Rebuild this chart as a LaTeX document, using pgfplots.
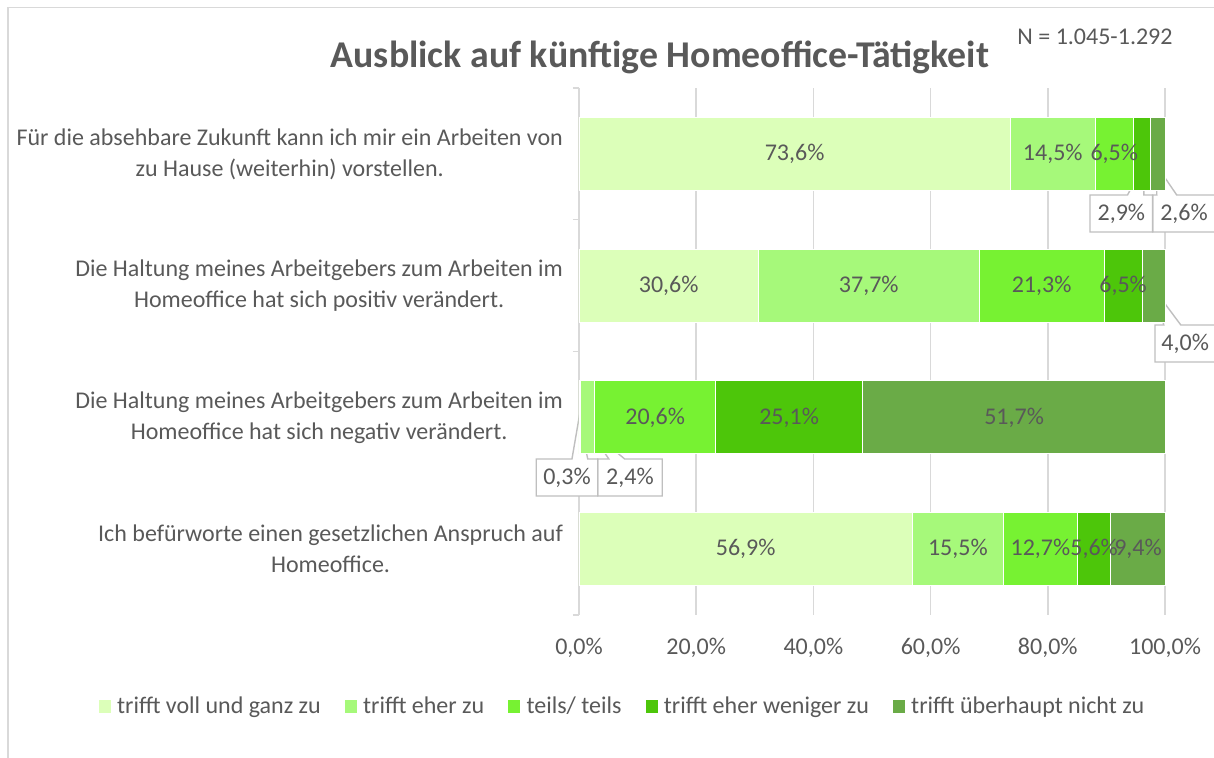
\documentclass[border=0pt]{standalone}
\usepackage{pgfplots}
\pgfplotsset{compat=1.18}
\usepackage{fontspec}
\setmainfont{Carlito}
\definecolor{cA}{HTML}{DCFFB9}
\definecolor{cB}{HTML}{A6F97A}
\definecolor{cC}{HTML}{77F232}
\definecolor{cD}{HTML}{4DC60A}
\definecolor{cE}{HTML}{6AAB47}
\definecolor{txt}{HTML}{595959}
\definecolor{gridc}{HTML}{D9D9D9}
\definecolor{callc}{HTML}{BFBFBF}
\newcommand{\callout}[8]{%
 \draw[callc, fill=white, line width=0.7pt, line join=miter] (axis cs:#7,#8) -- (axis cs:#5,#4) -- (axis cs:#1,#4) -- (axis cs:#1,#3) -- (axis cs:#2,#3) -- (axis cs:#2,#4) -- (axis cs:#6,#4) -- cycle;%
}
\begin{document}
\begin{tikzpicture}[x=1pt,y=1pt]
\path[use as bounding box] (-289.5,-71.5) rectangle (317.5,307.5);
\draw[gridc, line width=0.7pt] (-285.5,-71.5) -- (-285.5,303.75) -- (317.5,303.75);
\begin{axis}[
  at={(0,0)}, anchor=south west,
  scale only axis, width=293pt, height=263.5pt,
  xbar stacked, bar width=36.5pt,
  xmin=0, xmax=100, ymin=-0.5, ymax=3.5,
  clip=false,
  axis line style={draw=none},
  xtick={0,20,40,60,80,100},
  xticklabels={{0,0\%},{20,0\%},{40,0\%},{60,0\%},{80,0\%},{100,0\%}},
  xticklabel style={font=\fontsize{12}{14}\selectfont, text=txt, yshift=-8pt},
  xmajorgrids, major grid style={gridc, line width=0.75pt},
  ytick={0,1,2,3},
  yticklabels={{Ich befürworte einen gesetzlichen Anspruch auf\\Homeoffice.},
               {Die Haltung meines Arbeitgebers zum Arbeiten im\\Homeoffice hat sich negativ verändert.},
               {Die Haltung meines Arbeitgebers zum Arbeiten im\\Homeoffice hat sich positiv verändert.},
               {Für die absehbare Zukunft kann ich mir ein Arbeiten von\\zu Hause (weiterhin) vorstellen.}},
  yticklabel style={align=center, font=\fontsize{12}{15.5}\selectfont, text=txt, xshift=-4.5pt},
  minor ytick={-0.5,0.5,1.5,2.5,3.5},
  major tick length=0pt, minor tick length=3pt,
  tick align=outside, tick pos=left,
  minor tick style={gridc, line width=0.75pt},
  point meta=explicit symbolic,
  nodes near coords,
  every node near coord/.append style={anchor=center, text=txt, font=\fontsize{12}{14}\selectfont},
  every axis plot/.append style={draw=white, line width=0.4pt},
  legend columns=5,
  legend style={draw=none, at={(0.076,-0.173)}, anchor=center, font=\fontsize{12}{14}\selectfont, text=txt,
    /tikz/every even column/.append style={column sep=10pt}},
  legend image code/.code={\fill[#1, draw=none] (0pt,-3.2pt) rectangle (6pt,3.2pt); \path (7pt,0pt);},
]
\addplot[fill=cA] coordinates {(73.6,3) [73,6\%] (30.6,2) [30,6\%] (0.3,1) [] (56.9,0) [56,9\%]};
\addplot[fill=cB] coordinates {(14.5,3) [14,5\%] (37.7,2) [37,7\%] (2.4,1) [] (15.5,0) [15,5\%]};
\addplot[fill=cC] coordinates {(6.5,3) [6,5\%] (21.3,2) [21,3\%] (20.6,1) [20,6\%] (12.7,0) [12,7\%]};
\addplot[fill=cD] coordinates {(2.9,3) [] (6.5,2) [6,5\%] (25.1,1) [25,1\%] (5.6,0) [5,6\%]};
\addplot[fill=cE] coordinates {(2.6,3) [] (4.0,2) [] (51.7,1) [51,7\%] (9.4,0) [9,4\%]};
\legend{trifft voll und ganz zu, trifft eher zu, teils/ teils, trifft eher weniger zu, trifft überhaupt nicht zu}
\callout{87.2}{97.9}{2.407}{2.688}{93.6}{96.4}{96.4}{2.916}
\callout{97.9}{108.6}{2.407}{2.688}{98.6}{102.0}{98.5}{2.916}
\callout{98.3}{108.6}{1.420}{1.701}{99.8}{102.7}{98.0}{1.982}
\callout{-7.3}{3.2}{0.403}{0.684}{-1.2}{1.5}{0}{0.995}
\callout{3.2}{14.2}{0.403}{0.684}{5.1}{7.8}{1.5}{0.919}
\coordinate (L1) at (axis cs:92.55,2.5475);
\coordinate (L2) at (axis cs:103.25,2.5475);
\coordinate (L3) at (axis cs:103.45,1.5605);
\coordinate (L4) at (axis cs:-2.05,0.5435);
\coordinate (L5) at (axis cs:8.7,0.5435);
\end{axis}
\begin{scope}[every node/.style={text=txt, font=\fontsize{12}{14}\selectfont}]
\node at (L1) {2,9\%};
\node at (L2) {2,6\%};
\node at (L3) {4,0\%};
\node at (L4) {0,3\%};
\node at (L5) {2,4\%};
\end{scope}
\node[font=\bfseries\fontsize{18.9}{22}\selectfont, text=txt] at (40.5,279) {Ausblick auf künftige Homeoffice-Tätigkeit};
\node[font=\fontsize{12}{14}\selectfont, text=txt] at (258,289) {N = 1.045-1.292};
\end{tikzpicture}
\end{document}
